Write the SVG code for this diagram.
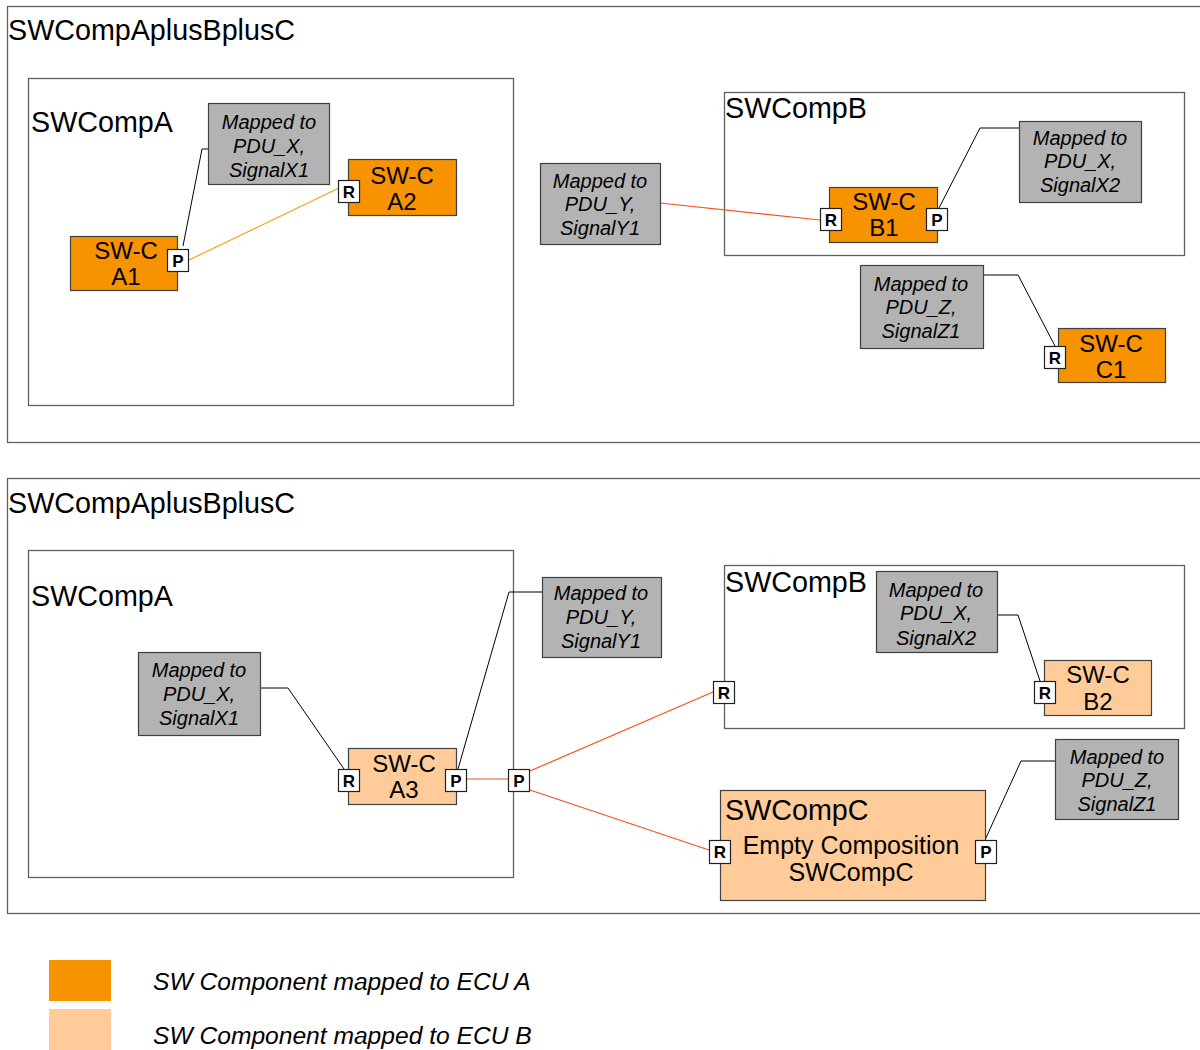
<svg xmlns="http://www.w3.org/2000/svg" width="1200" height="1050" viewBox="0 0 1200 1050">
<style>
text{font-family:"Liberation Sans",Arial,sans-serif;fill:#000}
.bg{fill:#fff}
.comp{fill:#fff;stroke:#606060;stroke-width:1.3}
.title{font-size:28.7px}
.ecuA{fill:#f79200;stroke:#404040;stroke-width:1.2}
.ecuB{fill:#ffcc99;stroke:#404040;stroke-width:1.2}
.map{fill:#b3b3b3;stroke:#404040;stroke-width:1.2}
.mt{font-size:20px;font-style:italic;text-anchor:middle}
.ct{font-size:24px;text-anchor:middle}
.port{fill:#fff;stroke:#202020;stroke-width:1.2}
.pt{font-size:17px;font-weight:bold;text-anchor:middle}
.blk{fill:none;stroke:#000;stroke-width:1}
.red{fill:none;stroke:#f4511e;stroke-width:1.2}
.org{fill:none;stroke:#f7a020;stroke-width:1.2}
.leg{font-size:24.6px;font-style:italic}
</style>
<rect class="bg" x="0" y="0" width="1200" height="1050"/>

<!-- ===== Top section ===== -->
<g id="top-outer">
<rect class="comp" x="7.5" y="6.5" width="1200" height="436"/>
<text class="title" x="8" y="40">SWCompAplusBplusC</text>
</g>
<g id="top-swcompa">
<rect class="comp" x="28.5" y="78.5" width="485" height="327"/>
<text class="title" x="31" y="132">SWCompA</text>
</g>
<g id="top-swcompb">
<rect class="comp" x="724.5" y="92.5" width="460" height="163"/>
<text class="title" x="725" y="118">SWCompB</text>
</g>

<g id="top-connectors">
<polyline class="blk" points="183,246 202,149 208,149"/>
<line class="org" x1="189" y1="260" x2="339" y2="188"/>
<line class="red" x1="660" y1="203" x2="820" y2="220"/>
<polyline class="blk" points="939,208 980,128 1019,128"/>
<polyline class="blk" points="983,275 1018,275 1055,346"/>
</g>

<g id="top-map-x1">
<rect class="map" x="208.5" y="103.5" width="121" height="81"/>
<text class="mt" x="269" y="129">Mapped to</text>
<text class="mt" x="269" y="153">PDU_X,</text>
<text class="mt" x="269" y="177">SignalX1</text>
</g>
<g id="top-swc-a2">
<rect class="ecuA" x="348.5" y="159.5" width="108" height="56"/>
<text class="ct" x="402" y="184">SW-C</text>
<text class="ct" x="402" y="210">A2</text>
<rect class="port" x="338.5" y="180.5" width="21" height="22"/>
<text class="pt" x="349" y="198">R</text>
</g>
<g id="top-swc-a1">
<rect class="ecuA" x="70.5" y="236.5" width="107" height="54"/>
<text class="ct" x="126" y="259">SW-C</text>
<text class="ct" x="126" y="285">A1</text>
<rect class="port" x="167.5" y="249.5" width="21" height="22"/>
<text class="pt" x="178" y="267">P</text>
</g>
<g id="top-map-y1">
<rect class="map" x="540.5" y="163.5" width="120" height="81"/>
<text class="mt" x="600" y="188">Mapped to</text>
<text class="mt" x="600" y="211">PDU_Y,</text>
<text class="mt" x="600" y="235">SignalY1</text>
</g>
<g id="top-swc-b1">
<rect class="ecuA" x="829.5" y="187.5" width="108" height="55"/>
<text class="ct" x="884" y="210">SW-C</text>
<text class="ct" x="884" y="236">B1</text>
<rect class="port" x="820.5" y="208.5" width="21" height="22"/>
<text class="pt" x="831" y="226">R</text>
<rect class="port" x="926.5" y="208.5" width="21" height="22"/>
<text class="pt" x="937" y="226">P</text>
</g>
<g id="top-map-x2">
<rect class="map" x="1019.5" y="121.5" width="122" height="81"/>
<text class="mt" x="1080" y="145">Mapped to</text>
<text class="mt" x="1080" y="168">PDU_X,</text>
<text class="mt" x="1080" y="192">SignalX2</text>
</g>
<g id="top-map-z1">
<rect class="map" x="860.5" y="265.5" width="123" height="83"/>
<text class="mt" x="921" y="291">Mapped to</text>
<text class="mt" x="921" y="314">PDU_Z,</text>
<text class="mt" x="921" y="338">SignalZ1</text>
</g>
<g id="top-swc-c1">
<rect class="ecuA" x="1058.5" y="328.5" width="107" height="54"/>
<text class="ct" x="1111" y="352">SW-C</text>
<text class="ct" x="1111" y="378">C1</text>
<rect class="port" x="1044.5" y="346.5" width="21" height="22"/>
<text class="pt" x="1055" y="364">R</text>
</g>

<!-- ===== Bottom section ===== -->
<g id="bot-outer">
<rect class="comp" x="7.5" y="478.5" width="1200" height="435"/>
<text class="title" x="8" y="513">SWCompAplusBplusC</text>
</g>
<g id="bot-swcompa">
<rect class="comp" x="28.5" y="550.5" width="485" height="327"/>
<text class="title" x="31" y="606">SWCompA</text>
</g>
<g id="bot-swcompb">
<rect class="comp" x="724.5" y="565.5" width="460" height="163"/>
<text class="title" x="725" y="592">SWCompB</text>
</g>

<g id="bot-connectors">
<polyline class="blk" points="260,688 288,688 344,769"/>
<polyline class="blk" points="458,769 509,592 542,592"/>
<line class="red" x1="466" y1="779" x2="509" y2="779"/>
<line class="red" x1="530" y1="771" x2="713" y2="692"/>
<line class="red" x1="530" y1="790" x2="709" y2="850"/>
<polyline class="blk" points="997,615 1018,615 1040,681"/>
<polyline class="blk" points="985,840 1021,761 1055,761"/>
</g>

<g id="bot-map-x1">
<rect class="map" x="138.5" y="652.5" width="122" height="83"/>
<text class="mt" x="199" y="677">Mapped to</text>
<text class="mt" x="199" y="701">PDU_X,</text>
<text class="mt" x="199" y="725">SignalX1</text>
</g>
<g id="bot-swc-a3">
<rect class="ecuB" x="348.5" y="748.5" width="108" height="56"/>
<text class="ct" x="404" y="772">SW-C</text>
<text class="ct" x="404" y="798">A3</text>
<rect class="port" x="338.5" y="769.5" width="21" height="22"/>
<text class="pt" x="349" y="787">R</text>
<rect class="port" x="445.5" y="769.5" width="21" height="22"/>
<text class="pt" x="456" y="787">P</text>
</g>
<g id="bot-swcompa-port">
<rect class="port" x="508.5" y="769.5" width="21" height="22"/>
<text class="pt" x="519" y="787">P</text>
</g>
<g id="bot-map-y1">
<rect class="map" x="542.5" y="577.5" width="119" height="80"/>
<text class="mt" x="601" y="600">Mapped to</text>
<text class="mt" x="601" y="624">PDU_Y,</text>
<text class="mt" x="601" y="648">SignalY1</text>
</g>
<g id="bot-swcompb-port">
<rect class="port" x="713.5" y="681.5" width="21" height="22"/>
<text class="pt" x="724" y="699">R</text>
</g>
<g id="bot-map-x2">
<rect class="map" x="876.5" y="571.5" width="121" height="81"/>
<text class="mt" x="936" y="597">Mapped to</text>
<text class="mt" x="936" y="620">PDU_X,</text>
<text class="mt" x="936" y="645">SignalX2</text>
</g>
<g id="bot-swc-b2">
<rect class="ecuB" x="1044.5" y="660.5" width="107" height="55"/>
<text class="ct" x="1098" y="683">SW-C</text>
<text class="ct" x="1098" y="710">B2</text>
<rect class="port" x="1034.5" y="681.5" width="21" height="22"/>
<text class="pt" x="1045" y="699">R</text>
</g>
<g id="bot-swcompc">
<rect class="ecuB" x="720.5" y="790.5" width="265" height="110"/>
<text class="title" x="725" y="820">SWCompC</text>
<text x="851" y="854" style="font-size:25px;text-anchor:middle">Empty Composition</text>
<text x="851" y="881" style="font-size:25px;text-anchor:middle">SWCompC</text>
<rect class="port" x="709.5" y="840.5" width="21" height="23"/>
<text class="pt" x="720" y="858">R</text>
<rect class="port" x="975.5" y="840.5" width="21" height="23"/>
<text class="pt" x="986" y="858">P</text>
</g>
<g id="bot-map-z1">
<rect class="map" x="1055.5" y="739.5" width="123" height="80"/>
<text class="mt" x="1117" y="764">Mapped to</text>
<text class="mt" x="1117" y="787">PDU_Z,</text>
<text class="mt" x="1117" y="811">SignalZ1</text>
</g>

<!-- ===== Legend ===== -->
<g id="legend-a">
<rect x="49" y="960" width="62" height="41" fill="#f79200"/>
<text class="leg" x="153" y="990">SW Component mapped to ECU A</text>
</g>
<g id="legend-b">
<rect x="49" y="1009" width="62" height="41" fill="#ffcc99"/>
<text class="leg" x="153" y="1044">SW Component mapped to ECU B</text>
</g>
</svg>
